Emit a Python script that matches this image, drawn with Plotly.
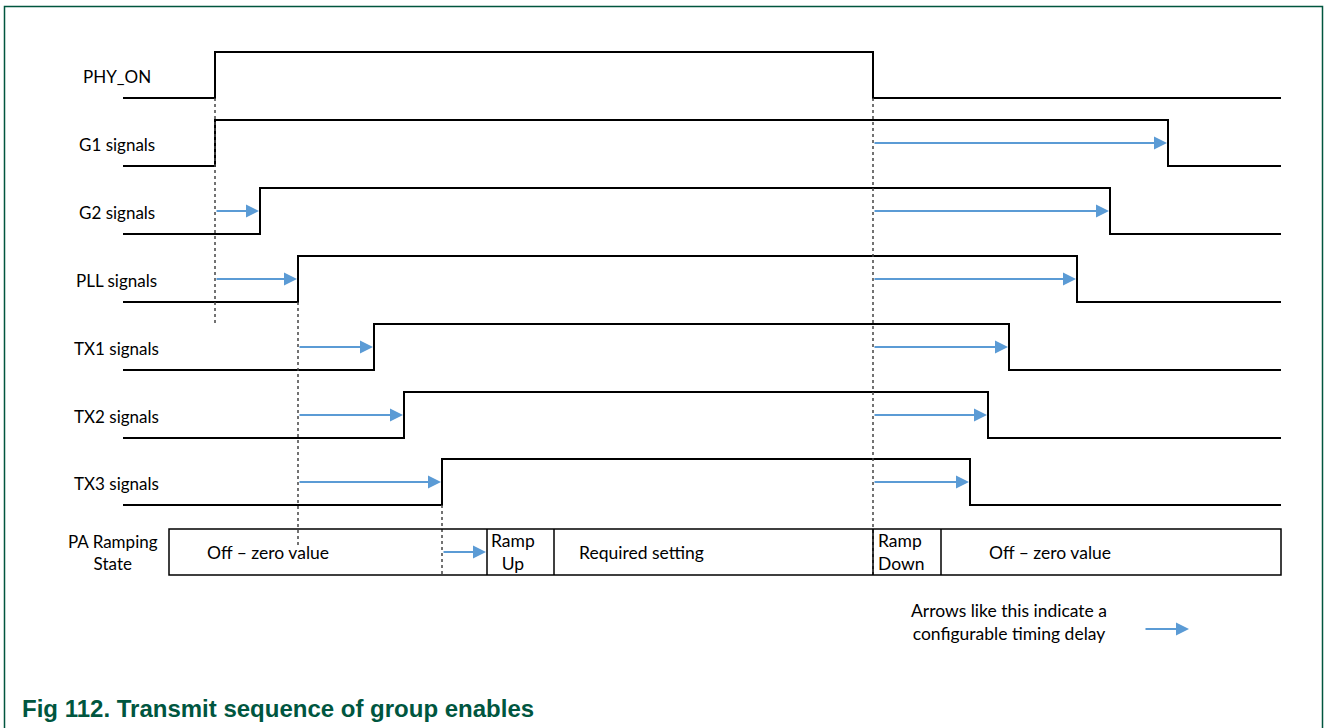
import plotly.graph_objects as go

# ---- data ----
signal_names = ["PHY_ON", "G1 signals", "G2 signals", "PLL signals",
                "TX1 signals", "TX2 signals", "TX3 signals"]
rise_times = [215, 215, 260, 298, 374, 404, 442]
fall_times = [873, 1168, 1110, 1077, 1009, 988, 970]
t_start, t_end = 123, 1281
row_low = [98, 166, 234, 302, 370, 438, 505]
pulse_height = 46
label_center_x = 116.5

# delay arrows: (row index, start, end)
rise_arrows = [(2, 215, 260), (3, 215, 298), (4, 298, 374), (5, 298, 404), (6, 298, 442)]
fall_arrows = [(1, 873, 1168), (2, 873, 1110), (3, 873, 1077), (4, 873, 1009), (5, 873, 988), (6, 873, 970)]

# dotted reference lines: (x, y0, y1)
ref_lines = [(215, 98, 325), (298, 302, 547), (873, 98, 576), (442, 505, 576)]

# PA ramping state segments
pa_bounds = [169, 487, 554, 873, 941, 1281]
pa_labels = ["Off – zero value", "Ramp<br>Up", "Required setting", "Ramp<br>Down", "Off – zero value"]
pa_label_x = [205, 513, 577, 876, 987]
pa_label_anchor = ["left", "center", "left", "left", "left"]
pa_top, pa_bot = 529, 575

BLUE = "#5B9BD5"
GREEN = "#00563F"
FONT = "Lato"

fig = go.Figure()

for i, name in enumerate(signal_names):
    lo = row_low[i]
    hi = lo - pulse_height
    xs = [t_start, rise_times[i], fall_times[i], t_end]
    ys = [lo, hi, lo, lo]
    fig.add_trace(go.Scatter(x=xs, y=ys, mode="lines", line=dict(color="black", width=2, shape="hv"),
                             hoverinfo="skip", showlegend=False))
    fig.add_annotation(x=label_center_x, y=lo - 21.5, text=name, showarrow=False,
                       xanchor="center", yanchor="middle", font=dict(family=FONT, size=17, color="black"))

for (x, y0, y1) in ref_lines:
    fig.add_trace(go.Scatter(x=[x, x], y=[y0, y1], mode="lines",
                             line=dict(color="#444444", width=1.5, dash="dot"),
                             hoverinfo="skip", showlegend=False))

def arrow(x0, x1, y):
    fig.add_annotation(x=x1, y=y, ax=x0, ay=y, xref="x", yref="y", axref="x", ayref="y",
                       showarrow=True, arrowhead=2, arrowsize=1.3, arrowwidth=2,
                       arrowcolor=BLUE, text="", standoff=0)

for (r, a, b) in rise_arrows + fall_arrows:
    arrow(a, b - 1, row_low[r] - pulse_height / 2)

# PA box
fig.add_shape(type="rect", x0=pa_bounds[0], x1=pa_bounds[-1], y0=pa_top, y1=pa_bot,
              line=dict(color="black", width=1.5), xref="x", yref="y")
for b in pa_bounds[1:-1]:
    fig.add_shape(type="line", x0=b, x1=b, y0=pa_top, y1=pa_bot,
                  line=dict(color="black", width=1.5), xref="x", yref="y")
for txt, x, anc in zip(pa_labels, pa_label_x, pa_label_anchor):
    fig.add_annotation(x=x, y=(pa_top + pa_bot) / 2, text=txt, showarrow=False, xanchor=anc,
                       yanchor="middle", align="center" if anc == "center" else "left",
                       font=dict(family=FONT, size=17.5, color="black"))
fig.add_annotation(x=112.5, y=552, text="PA Ramping<br>State", showarrow=False, xanchor="center",
                   yanchor="middle", align="center", font=dict(family=FONT, size=17, color="black"))
arrow(442, 486, 552)

# legend note
fig.add_annotation(x=1009, y=621.5, text="Arrows like this indicate a<br>configurable timing delay",
                   showarrow=False, xanchor="center", yanchor="middle", align="center",
                   font=dict(family=FONT, size=17.5, color="black"))
arrow(1144, 1189, 629)

# caption
fig.add_annotation(x=20, y=708, text="<b>Fig 112. Transmit sequence of group enables</b>", showarrow=False,
                   xanchor="left", yanchor="middle", font=dict(family="Liberation Sans", size=24, color=GREEN))

# frame
fig.add_shape(type="rect", x0=4.5, x1=1322.5, y0=6.5, y1=740, line=dict(color=GREEN, width=1.5),
              xref="x", yref="y")

fig.update_layout(width=1326, height=728, margin=dict(l=0, r=0, t=0, b=0),
                  paper_bgcolor="white", plot_bgcolor="white", hovermode=False,
                  xaxis=dict(range=[0, 1326], visible=False, fixedrange=True),
                  yaxis=dict(range=[728, 0], visible=False, fixedrange=True))
fig.write_html("out.html", config={"displayModeBar": False, "staticPlot": True},
               post_script="document.body.style.margin='0';document.body.style.overflow='hidden';")
